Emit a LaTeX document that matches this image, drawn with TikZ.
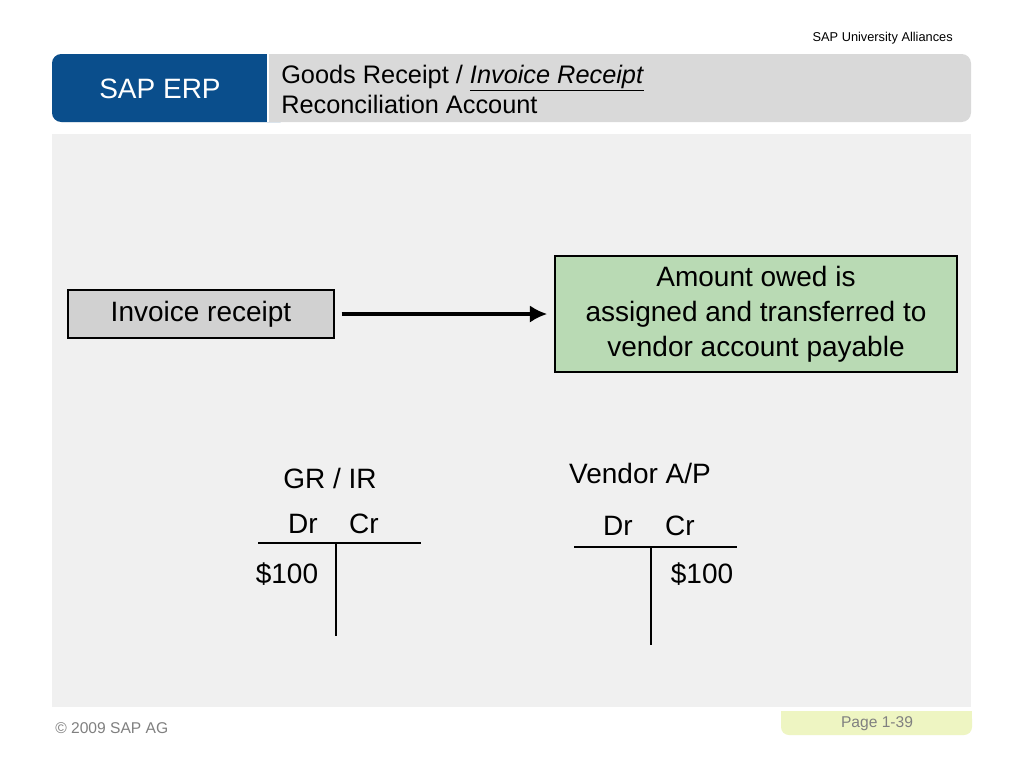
\documentclass[tikz,border=0pt]{standalone}
\usepackage{fontspec}
\setmainfont{Liberation Sans}
\usetikzlibrary{arrows.meta}

\definecolor{sapblue}{RGB}{10,78,140}
\definecolor{hdrgrey}{RGB}{217,217,217}
\definecolor{panelgrey}{RGB}{240,240,240}
\definecolor{boxgrey}{RGB}{209,209,209}
\definecolor{boxgreen}{RGB}{185,218,180}
\definecolor{pagegreen}{RGB}{238,245,194}
\definecolor{footgrey}{RGB}{128,128,128}

\def\bodyfont{\fontsize{21}{26.25}\selectfont}
\def\titlefont{\fontsize{19}{22.5}\selectfont}
\def\smallfont{\fontsize{9.6}{11}\selectfont}
\def\footfont{\fontsize{11.7}{14}\selectfont}

\begin{document}
\begin{tikzpicture}[x=0.75pt, y=-0.75pt,
    stepbox/.style={draw=black, line width=1.6pt, align=center, font=\bodyfont, inner sep=0pt},
    acct/.style={font=\bodyfont, anchor=base, inner sep=0pt},
    tline/.style={line width=2.2pt}]
            \useasboundingbox (0,0) rectangle (1024,768);
            \fill[white] (0,0) rectangle (1024,768);

            % header bar
            \fill[hdrgrey, rounded corners=7pt] (52,54) rectangle (971,122);
            \fill[sapblue, rounded corners=7pt] (52,54) rectangle (290,122);
            \fill[hdrgrey] (268,54) rectangle (300,122);
            \draw[white, line width=1.5pt] (268,54) -- (268,122);
            \node[text=white, font=\bodyfont] (erp) at (160,89) {SAP ERP};
            \node[anchor=north west, align=left, font=\titlefont, inner sep=0pt] (title) at (281,64.5)
                {Goods Receipt / \underline{\textit{Invoice Receipt}}\\Reconciliation Account};
            \node[anchor=base east, font=\smallfont, inner sep=0pt] (sua) at (953,41) {SAP University Alliances};

            % slide body and footer
            \fill[panelgrey] (52,134) rectangle (971,707);
            \fill[pagegreen, rounded corners=6pt] (781,711) rectangle (972,735);
            \fill[pagegreen] (781,711) rectangle (972,722);
            \node[text=footgrey, font=\footfont] (page) at (877,724) {Page 1-39};
            \node[anchor=base west, text=footgrey, font=\footfont, inner sep=0pt] (copy) at (55,733) {\textcopyright{} 2009 SAP AG};

            \node[stepbox, fill=boxgrey, minimum width=199.5pt, minimum height=36pt] (inv) at (201,314) {Invoice receipt};
            \node[stepbox, fill=boxgreen, minimum width=301.5pt, minimum height=87pt] (owed) at (756,314)
                {Amount owed is\\assigned and transferred to\\vendor account payable};
            \draw[line width=3.5pt, -{Latex[length=13pt, width=13pt]}, shorten <=5pt, shorten >=5pt] (inv) -- (owed);

            % T accounts
            \node[acct] (grir) at (330,488) {GR / IR};
            \node[acct] (grdr) at (303,533) {Dr};
            \node[acct] (grcr) at (364,533) {Cr};
            \draw[tline] (258,543) -- (421,543);
            \draw[tline] (336,543) -- (336,636);
            \node[acct] (grsum) at (287,583) {\$100};

            \node[acct] (vend) at (640,483) {Vendor A/P};
            \node[acct] (vddr) at (618,535) {Dr};
            \node[acct] (vdcr) at (680,535) {Cr};
            \draw[tline] (574,547) -- (737,547);
            \draw[tline] (651,547) -- (651,645);
            \node[acct] (vdsum) at (702,583) {\$100};

        \end{tikzpicture}
\end{document}
